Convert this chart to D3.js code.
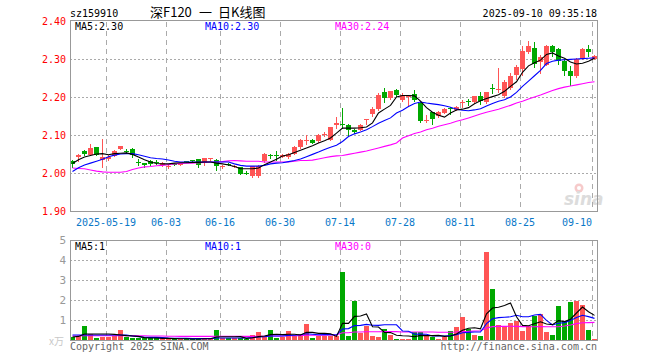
<!DOCTYPE html>
<html><head><meta charset="utf-8">
<script src="https://cdn.jsdelivr.net/npm/d3@7"></script>
<style>
html,body{margin:0;padding:0;background:#fff;}
svg{display:block;}
text{font-family:"DejaVu Sans Mono",monospace;font-size:10px;}
</style></head><body>
<svg id="c" width="660" height="360"></svg>
<script>
const dates = ["2025-05-09","2025-05-12","2025-05-13","2025-05-14","2025-05-15","2025-05-16","2025-05-19","2025-05-20","2025-05-21","2025-05-22","2025-05-23","2025-05-26","2025-05-27","2025-05-28","2025-05-29","2025-05-30",
"2025-06-03","2025-06-04","2025-06-05","2025-06-06","2025-06-09","2025-06-10","2025-06-11","2025-06-12","2025-06-13","2025-06-16","2025-06-17","2025-06-18","2025-06-19","2025-06-20","2025-06-23","2025-06-24","2025-06-25","2025-06-26","2025-06-27","2025-06-30",
"2025-07-01","2025-07-02","2025-07-03","2025-07-04","2025-07-07","2025-07-08","2025-07-09","2025-07-10","2025-07-11","2025-07-14","2025-07-15","2025-07-16","2025-07-17","2025-07-18","2025-07-21","2025-07-22","2025-07-23","2025-07-24","2025-07-25","2025-07-28","2025-07-29","2025-07-30","2025-07-31",
"2025-08-01","2025-08-04","2025-08-05","2025-08-06","2025-08-07","2025-08-08","2025-08-11","2025-08-12","2025-08-13","2025-08-14","2025-08-15","2025-08-18","2025-08-19","2025-08-20","2025-08-21","2025-08-22","2025-08-25","2025-08-26","2025-08-27","2025-08-28","2025-08-29",
"2025-09-01","2025-09-02","2025-09-03","2025-09-04","2025-09-05","2025-09-08","2025-09-09","2025-09-10"];

const openP = [2.032,2.041,2.059,2.048,2.068,2.035,2.037,2.046,2.064,2.058, 2.064,2.030,2.026,2.031,2.030,2.020,2.016,2.025,2.022,2.031, 2.033,2.037,2.026,2.037,2.035,2.016,2.024,2.018,2.015,2.001, 1.991,1.992,2.031,2.047,2.047,2.043,2.043,2.051,2.069,2.085, 2.088,2.083,2.100,2.088,2.125,2.130,2.127,2.114,2.114,2.141, 2.154,2.168,2.212,2.197,2.219,2.193,2.200,2.209,2.184,2.138, 2.160,2.149,2.158,2.172,2.167,2.185,2.190,2.186,2.202,2.186, 2.223,2.219,2.202,2.224,2.257,2.275,2.318,2.330,2.291,2.285, 2.335,2.325,2.296,2.268,2.254,2.301,2.327,2.301];
const highP = [2.033,2.049,2.060,2.077,2.069,2.090,2.047,2.060,2.071,2.062, 2.065,2.038,2.027,2.034,2.034,2.028,2.022,2.027,2.027,2.032, 2.035,2.038,2.040,2.040,2.036,2.020,2.026,2.022,2.016,2.004, 2.019,2.020,2.052,2.050,2.057,2.049,2.053,2.070,2.089,2.101, 2.089,2.102,2.108,2.122,2.147,2.171,2.128,2.115,2.128,2.142, 2.174,2.211,2.224,2.217,2.220,2.210,2.205,2.218,2.188,2.153, 2.161,2.163,2.170,2.173,2.176,2.193,2.195,2.203,2.213,2.213, 2.235,2.277,2.244,2.262,2.285,2.333,2.348,2.344,2.310,2.336, 2.336,2.330,2.299,2.281,2.302,2.330,2.336,2.311];
const lowP = [2.017,2.031,2.048,2.047,2.047,2.017,2.033,2.044,2.063,2.052, 2.041,2.022,2.017,2.022,2.024,2.018,2.013,2.021,2.020,2.028, 2.029,2.016,2.020,2.035,2.009,2.013,2.020,2.015,1.997,1.998, 1.990,1.990,2.030,2.040,2.035,2.042,2.040,2.049,2.067,2.075, 2.079,2.082,2.098,2.087,2.118,2.118,2.101,2.104,2.113,2.130, 2.149,2.165,2.187,2.195,2.203,2.190,2.177,2.190,2.134,2.133, 2.129,2.148,2.157,2.154,2.166,2.175,2.180,2.185,2.182,2.184, 2.210,2.213,2.200,2.221,2.247,2.258,2.316,2.280,2.262,2.284, 2.308,2.286,2.259,2.231,2.252,2.299,2.307,2.300];
const closeP = [2.025,2.048,2.051,2.066,2.048,2.041,2.043,2.057,2.070,2.056, 2.047,2.029,2.020,2.023,2.029,2.026,2.018,2.024,2.026,2.029, 2.032,2.022,2.039,2.039,2.018,2.018,2.022,2.019,1.997,2.000, 2.019,2.019,2.051,2.046,2.045,2.048,2.051,2.068,2.088,2.087, 2.080,2.101,2.102,2.121,2.131,2.128,2.114,2.107,2.127,2.142, 2.169,2.206,2.197,2.215,2.204,2.206,2.202,2.193,2.136,2.140, 2.142,2.161,2.169,2.170,2.175,2.188,2.188,2.202,2.190,2.212, 2.221,2.222,2.240,2.254,2.278,2.322,2.335,2.287,2.305,2.335, 2.318,2.294,2.269,2.254,2.301,2.327,2.318,2.308];

const ma5 = [2.025,2.035,2.042,2.046,2.050,2.051,2.048,2.051,2.052,2.053, 2.049,2.042,2.035,2.029,2.025,2.024,2.024,2.026,2.027,2.027, 2.028,2.028,2.029,2.029,2.026,2.024,2.021,2.017,2.011,2.011, 2.011,2.013,2.022,2.029,2.036,2.045,2.048,2.054,2.060,2.066, 2.072,2.079,2.085,2.092,2.105,2.118,2.118,2.118,2.119,2.121, 2.132,2.158,2.168,2.178,2.200,2.204,2.204,2.203,2.189,2.172, 2.160,2.152,2.147,2.158,2.166,2.168,2.172,2.182,2.190,2.196, 2.201,2.206,2.215,2.228,2.240,2.265,2.282,2.290,2.297,2.312, 2.316,2.308,2.302,2.292,2.287,2.289,2.294,2.302];
const ma10 = [2.004,2.014,2.021,2.026,2.031,2.036,2.043,2.047,2.050,2.051, 2.051,2.048,2.044,2.040,2.038,2.037,2.034,2.031,2.029,2.029, 2.029,2.029,2.029,2.029,2.029,2.029,2.029,2.024,2.020,2.018, 2.018,2.018,2.020,2.024,2.026,2.027,2.030,2.033,2.037,2.043, 2.049,2.055,2.062,2.068,2.073,2.083,2.096,2.103,2.108,2.114, 2.122,2.131,2.138,2.145,2.158,2.165,2.175,2.183,2.187,2.184, 2.182,2.180,2.177,2.173,2.168,2.165,2.164,2.166,2.169,2.176, 2.183,2.189,2.193,2.200,2.212,2.228,2.242,2.256,2.270,2.288, 2.294,2.297,2.298,2.299,2.300,2.301,2.302,2.303];
const ma30 = [2.013,2.012,2.011,2.008,2.005,2.003,2.002,2.002,2.002,2.004, 2.009,2.013,2.016,2.017,2.019,2.020,2.022,2.024,2.025,2.026, 2.026,2.027,2.028,2.029,2.029,2.030,2.032,2.033,2.032,2.031, 2.031,2.031,2.029,2.029,2.029,2.029,2.029,2.031,2.033,2.033, 2.034,2.037,2.040,2.043,2.045,2.046,2.049,2.052,2.055,2.058, 2.062,2.066,2.070,2.074,2.079,2.092,2.098,2.104,2.108,2.114, 2.118,2.123,2.127,2.131,2.136,2.140,2.145,2.150,2.155,2.160, 2.164,2.168,2.173,2.178,2.184,2.189,2.195,2.200,2.205,2.211, 2.217,2.222,2.226,2.229,2.232,2.235,2.238,2.240];

const volume = [0.15,0.20,0.68,0.32,0.10,0.15,0.15,0.20,0.52,0.15, 0.10,0.10,0.08,0.08,0.08,0.08,0.05,0.05,0.05,0.05, 0.05,0.05,0.08,0.05,0.52,0.08,0.08,0.08,0.08,0.05, 0.27,0.38,0.20,0.52,0.10,0.15,0.47,0.20,0.32,0.82, 0.10,0.20,0.20,0.22,0.18,3.38,0.18,1.93,0.35,0.68, 0.18,0.13,0.57,0.27,0.05,0.05,0.05,0.38,0.38,0.18, 0.13,0.07,0.13,0.47,0.63,1.13,0.57,0.27,0.22,4.38, 2.57,0.77,0.68,0.85,0.93,0.43,0.68,1.18,1.32,0.38, 0.27,1.72,0.93,1.88,1.93,1.77,0.52,0.07];
const volMa5 = [0.15,0.18,0.30,0.30,0.30,0.30,0.30,0.28,0.25,0.22, 0.20,0.18,0.12,0.10,0.10,0.08,0.08,0.07,0.06,0.06, 0.05,0.05,0.06,0.06,0.15,0.16,0.16,0.16,0.17,0.08, 0.11,0.17,0.20,0.27,0.29,0.27,0.29,0.29,0.25,0.39, 0.38,0.33,0.33,0.31,0.18,0.84,0.83,1.18,1.20,1.30, 0.66,0.65,0.38,0.37,0.24,0.21,0.20,0.16,0.23,0.22, 0.22,0.23,0.18,0.20,0.30,0.49,0.59,0.61,0.56,1.31, 1.60,1.64,1.72,1.85,1.16,0.73,0.71,0.81,0.91,0.80, 0.77,0.97,0.92,1.04,1.35,1.65,1.41,1.23];
const volMa10 = [0.25,0.25,0.25,0.25,0.25,0.25,0.25,0.25,0.25,0.25, 0.20,0.17,0.14,0.13,0.13,0.12,0.10,0.09,0.09,0.08, 0.07,0.07,0.07,0.07,0.10,0.10,0.10,0.10,0.10,0.10, 0.12,0.15,0.16,0.20,0.20,0.20,0.23,0.24,0.26,0.31, 0.29,0.26,0.27,0.27,0.25,0.55,0.57,0.72,0.73,0.78, 0.74,0.73,0.76,0.76,0.76,0.45,0.44,0.29,0.30,0.29, 0.20,0.20,0.20,0.22,0.27,0.36,0.38,0.40,0.40,0.82, 1.06,1.12,1.14,1.16,1.24,1.16,1.16,1.25,1.28,0.98, 0.75,0.84,0.87,0.97,1.13,1.24,1.17,1.08];
const volMa30 = [0.20,0.20,0.21,0.21,0.21,0.21,0.21,0.21,0.22,0.22, 0.22,0.21,0.21,0.20,0.20,0.20,0.19,0.19,0.18,0.18, 0.18,0.18,0.18,0.18,0.19,0.19,0.19,0.19,0.18,0.18, 0.18,0.19,0.19,0.20,0.20,0.20,0.21,0.21,0.22,0.24, 0.24,0.24,0.24,0.25,0.25,0.36,0.36,0.40,0.40,0.41, 0.41,0.41,0.42,0.42,0.42,0.40,0.40,0.40,0.40,0.40, 0.40,0.39,0.39,0.39,0.40,0.42,0.43,0.45,0.46,0.60, 0.67,0.68,0.68,0.69,0.68,0.67,0.66,0.66,0.67,0.66, 0.66,0.66,0.70,0.75,0.82,0.86,0.87,0.88];

const tickDates = ["2025-05-19","2025-06-03","2025-06-16","2025-06-30","2025-07-14","2025-07-28","2025-08-11","2025-08-25","2025-09-10"];
const tickLabels = ["2025-05-19","06-03","06-16","06-30","07-14","07-28","08-11","08-25","09-10"];
const priceTicks = [2.40,2.30,2.20,2.10,2.00,1.90];
const volTicks = [5,4,3,2,1];

const RED = "#ff5555", GREEN = "#00a800", GRID = "#aaaaaa", FRAME = "#999999";
const svg = d3.select("#c");

const x = d3.scaleBand().domain(dates).range([69.5, 597.5]).paddingInner(1/6).paddingOuter(1/12);
const y = d3.scaleLinear().domain([1.90, 2.40]).range([211, 21]);
const yv = d3.scaleLinear().domain([0, 5]).range([340, 240]);
const cx = d => x(d) + 2.5;
const L = 70, R = 597;

// watermark
const wm = svg.append("g");
wm.append("circle").attr("cx", 579).attr("cy", 188).attr("r", 4.5).attr("fill", "#f6caca");
wm.append("circle").attr("cx", 579).attr("cy", 188).attr("r", 2).attr("fill", "#fff");
wm.append("text").attr("x", 564).attr("y", 205).text("sina")
  .style("font-family", "DejaVu Sans").style("font-size", "17px").style("font-weight", "bold")
  .style("font-style", "italic").attr("fill", "#dcdcdc");

// grids price
svg.append("g").selectAll("line").data([2.30,2.20,2.10,2.00]).join("line")
  .attr("x1", L).attr("x2", R).attr("y1", d => Math.round(y(d)) + 0.5).attr("y2", d => Math.round(y(d)) + 0.5)
  .attr("stroke", GRID).attr("stroke-dasharray", "2,2");
svg.append("g").selectAll("line").data(tickDates).join("line")
  .attr("x1", d => x(d) + 0.5).attr("x2", d => x(d) + 0.5).attr("y1", 22).attr("y2", 211)
  .attr("stroke", GRID).attr("stroke-dasharray", "5,4");
// grids volume
svg.append("g").selectAll("line").data([4,3,2,1]).join("line")
  .attr("x1", L).attr("x2", R).attr("y1", d => yv(d) + 0.5).attr("y2", d => yv(d) + 0.5)
  .attr("stroke", GRID).attr("stroke-dasharray", "2,2");
svg.append("g").selectAll("line").data(tickDates).join("line")
  .attr("x1", d => x(d) + 0.5).attr("x2", d => x(d) + 0.5).attr("y1", 241).attr("y2", 340)
  .attr("stroke", GRID).attr("stroke-dasharray", "5,4");

// candles
const idx = d3.range(dates.length);
const cg = svg.append("g");
idx.forEach(i => {
  const up = closeP[i] >= openP[i];
  const col = up ? RED : GREEN;
  const d = dates[i];
  cg.append("line").attr("x1", cx(d)).attr("x2", cx(d))
    .attr("y1", Math.round(y(highP[i]))).attr("y2", Math.round(y(lowP[i])) + 1)
    .attr("stroke", col);
  const t = Math.round(y(Math.max(openP[i], closeP[i])));
  const b = Math.round(y(Math.min(openP[i], closeP[i])));
  cg.append("rect").attr("x", x(d)).attr("y", t).attr("width", x.bandwidth())
    .attr("height", Math.max(1, b - t)).attr("fill", col);
});

// volume bars
svg.append("g").selectAll("rect").data(idx).join("rect")
  .attr("x", i => x(dates[i])).attr("width", x.bandwidth())
  .attr("y", i => Math.round(yv(volume[i]))).attr("height", i => 340 - Math.round(yv(volume[i])))
  .attr("fill", i => closeP[i] >= openP[i] ? RED : GREEN);

// MA lines
const lineP = d3.line().x((d, i) => cx(dates[i])).y(d => y(d));
const lineV = d3.line().x((d, i) => cx(dates[i])).y(d => yv(d));
[[ma30, "#ff00ff"], [ma10, "#0000ff"], [ma5, "#000000"]].forEach(([arr, c]) => {
  svg.append("path").attr("d", lineP(arr)).attr("fill", "none").attr("stroke", c).attr("stroke-width", 1.1);
});
[[volMa30, "#ff00ff"], [volMa10, "#0000ff"], [volMa5, "#000000"]].forEach(([arr, c]) => {
  svg.append("path").attr("d", lineV(arr)).attr("fill", "none").attr("stroke", c).attr("stroke-width", 1.1);
});

// frames
svg.append("rect").attr("x", L + 0.5).attr("y", 20.5).attr("width", R - L).attr("height", 191)
  .attr("fill", "none").attr("stroke", FRAME);
svg.append("rect").attr("x", L + 0.5).attr("y", 240.5).attr("width", R - L).attr("height", 100)
  .attr("fill", "none").attr("stroke", FRAME);

// price labels
svg.append("g").selectAll("text").data(priceTicks).join("text")
  .attr("x", 66).attr("y", d => y(d) + 4).attr("text-anchor", "end").attr("fill", "#ff0000")
  .text(d => d3.format(".2f")(d));
// volume labels
svg.append("g").selectAll("text").data(volTicks).join("text")
  .attr("x", 66).attr("y", d => yv(d) + 4).attr("text-anchor", "end").attr("fill", "#999")
  .style("font-size", "11px").text(d => d);
svg.append("text").attr("x", 64).attr("y", 345).attr("text-anchor", "end").attr("fill", "#c8c8c8")
  .style("font-family", "'Noto Sans CJK SC', sans-serif").style("font-size", "10px").text("x万");

// date labels (last one kept inside the frame)
svg.append("g").selectAll("text").data(tickDates).join("text")
  .attr("x", d => x(d))
  .attr("y", 226)
  .attr("text-anchor", (d, i) => (x(d) + tickLabels[i].length * 3 > R) ? "end" : "middle")
  .attr("fill", "#0a78c8")
  .text((d, i) => tickLabels[i]);

// header
svg.append("text").attr("x", 70).attr("y", 17).attr("fill", "#000").text("sz159910");
const tStyle = s => s.style("font-family", "'Noto Sans CJK SC', sans-serif").style("font-size", "13px").attr("fill", "#000");
svg.append("text").attr("x", 150).attr("y", 17).call(tStyle).text("深F120");
svg.append("text").attr("x", 199).attr("y", 17).call(tStyle).text("一");
svg.append("text").attr("x", 218).attr("y", 17).call(tStyle).text("日K线图");
svg.append("text").attr("x", 597).attr("y", 17).attr("text-anchor", "end").attr("fill", "#000").text("2025-09-10 09:35:18");

// MA legends
const legP = [["MA5:2.30", 75, "#000"], ["MA10:2.30", 205, "#0000ff"], ["MA30:2.24", 335, "#ff00ff"]];
legP.forEach(([t, xx, c]) => svg.append("text").attr("x", xx).attr("y", 30).attr("fill", c).text(t));
const legV = [["MA5:1", 75, "#000"], ["MA10:1", 205, "#0000ff"], ["MA30:0", 335, "#ff00ff"]];
legV.forEach(([t, xx, c]) => svg.append("text").attr("x", xx).attr("y", 250).attr("fill", c).text(t));

// footer
svg.append("text").attr("x", 70).attr("y", 350).attr("fill", "#666").text("Copyright 2025 SINA.COM");
svg.append("text").attr("x", 597).attr("y", 350).attr("text-anchor", "end").attr("fill", "#666").text("http://finance.sina.com.cn");
</script>
</body></html>
